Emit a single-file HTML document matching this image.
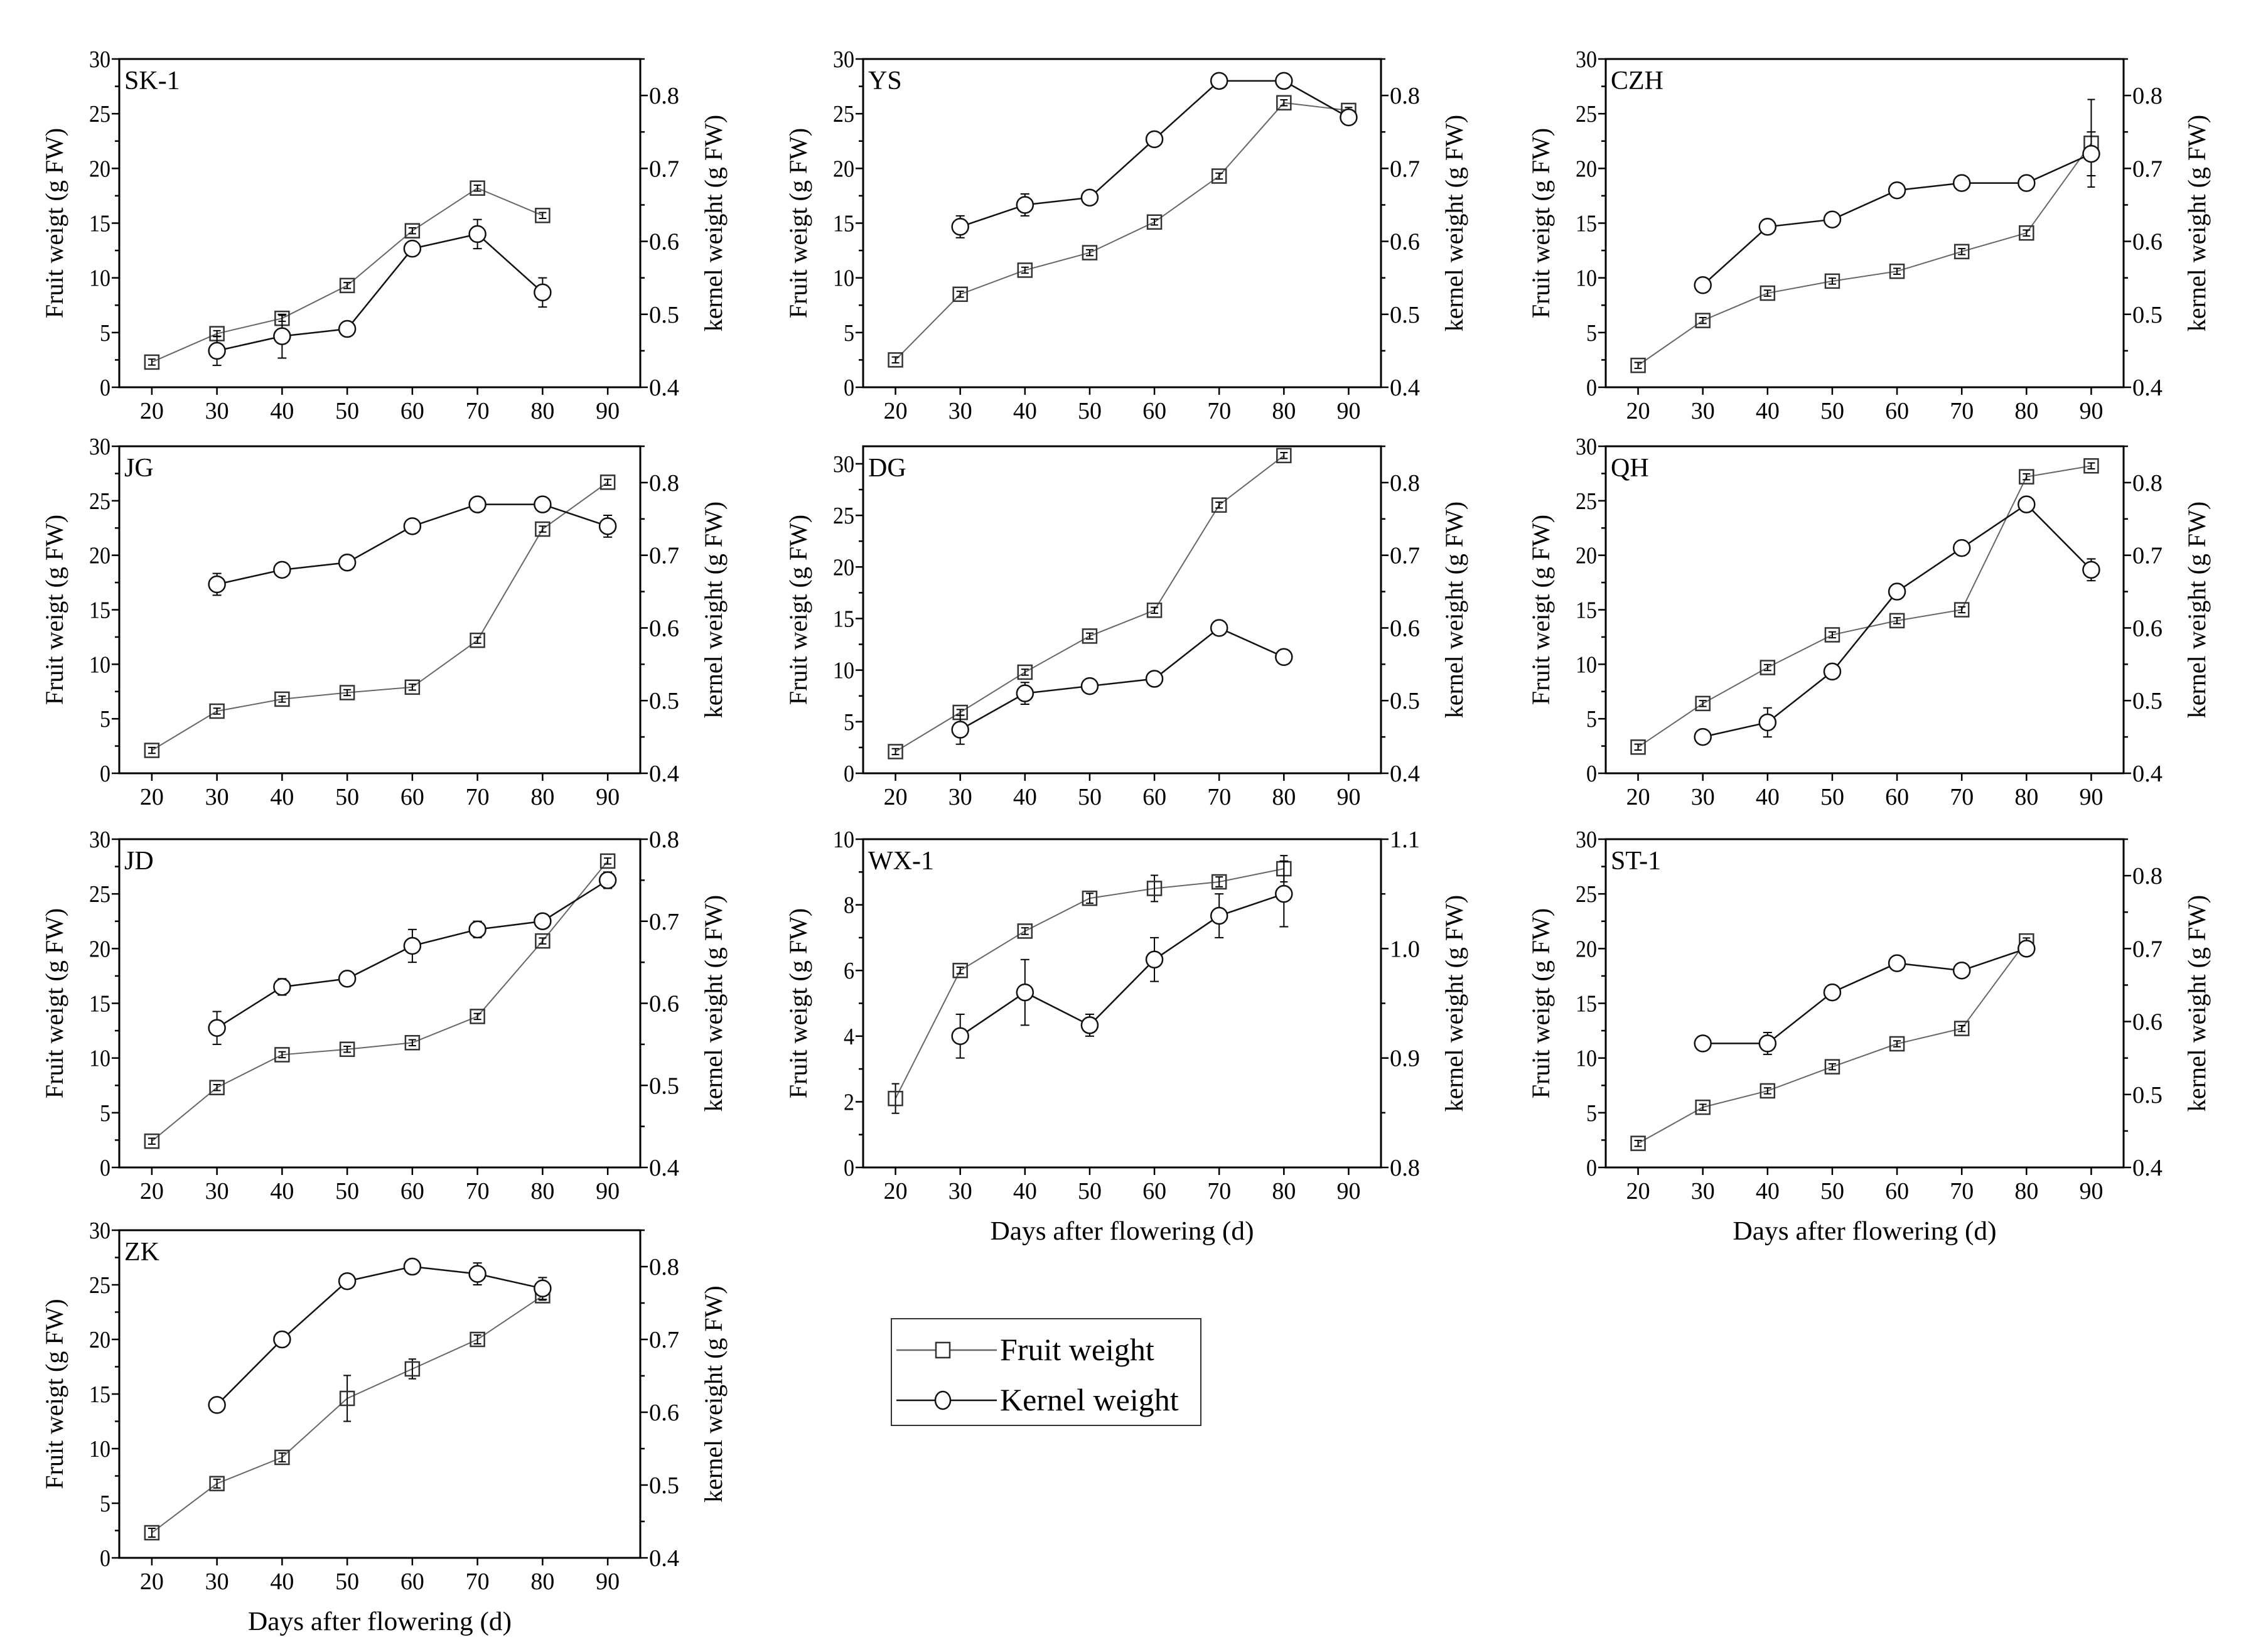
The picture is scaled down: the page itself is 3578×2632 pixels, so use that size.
<!DOCTYPE html>
<html><head><meta charset="utf-8"><style>
html,body{margin:0;padding:0;background:#fff}
svg{display:block}
text{font-family:"Liberation Serif","DejaVu Serif",serif;fill:#000}
</style></head><body>
<svg id="fig" width="3578" height="2632" viewBox="0 0 3578 2632" xmlns="http://www.w3.org/2000/svg">
<g id="legend">
<rect x="1420" y="2101" width="493" height="170" fill="#fff" stroke="#333" stroke-width="2"/>
<g>
<line x1="1428" y1="2151" x2="1588" y2="2151" stroke="#666" stroke-width="2.5"/>
<rect x="1491" y="2139" width="22" height="24" fill="#fff" stroke="#333" stroke-width="2.5"/>
<text x="1593" y="2167" font-size="50">Fruit weight</text></g>
<g>
<line x1="1428" y1="2231" x2="1588" y2="2231" stroke="#111" stroke-width="2.5"/>
<ellipse cx="1502" cy="2231" rx="12" ry="14" fill="#fff" stroke="#111" stroke-width="2.5"/>
<text x="1593" y="2247" font-size="50">Kernel weight</text></g>
</g>
</svg>
<script>
const days = [20,30,40,50,60,70,80,90];
const panelNames = ["SK-1","YS","CZH","JG","DG","QH","JD","WX-1","ST-1","ZK"];
const fruitSK1 = [2.3,4.9,6.3,9.3,14.3,18.2,15.7,null];
const kernelSK1 = [null,0.45,0.47,0.48,0.59,0.61,0.53,null];
const kernelErrSK1 = [0,0.02,0.03,0,0.005,0.02,0.02,0];
const fruitYS = [2.5,8.5,10.7,12.3,15.1,19.3,26.0,25.3];
const kernelYS = [null,0.62,0.65,0.66,0.74,0.82,0.82,0.77];
const kernelErrYS = [0,0.015,0.015,0.005,0,0,0,0];
const fruitCZH = [2.0,6.1,8.6,9.7,10.6,12.4,14.1,22.3];
const kernelCZH = [null,0.54,0.62,0.63,0.67,0.68,0.68,0.72];
const kernelErrCZH = [0,0,0,0,0,0,0,0.03];
const fruitJG = [2.1,5.7,6.8,7.4,7.9,12.2,22.4,26.7];
const kernelJG = [null,0.66,0.68,0.69,0.74,0.77,0.77,0.74];
const kernelErrJG = [0,0.015,0.005,0.005,0,0,0,0.015];
const fruitDG = [2.1,5.9,9.8,13.3,15.8,26.0,30.8,null];
const kernelDG = [null,0.46,0.51,0.52,0.53,0.60,0.56,null];
const kernelErrDG = [0,0.02,0.015,0,0,0,0,0];
const fruitQH = [2.4,6.4,9.7,12.7,14.0,15.0,27.2,28.2];
const kernelQH = [null,0.45,0.47,0.54,0.65,0.71,0.77,0.68];
const kernelErrQH = [0,0,0.02,0,0,0,0,0.015];
const fruitJD = [2.4,7.3,10.3,10.8,11.4,13.8,20.7,28.0];
const kernelJD = [null,0.57,0.62,0.63,0.67,0.69,0.70,0.75];
const kernelErrJD = [0,0.02,0.01,0,0.02,0.01,0,0.01];
const fruitWX1 = [2.1,6.0,7.2,8.2,8.5,8.7,9.1,null];
const kernelWX1 = [null,0.92,0.96,0.93,0.99,1.03,1.05,null];
const kernelErrWX1 = [0,0.02,0.03,0.01,0.02,0.02,0.03,0];
const fruitErrWX1 = [0.45,0.1,0.1,0.15,0.4,0.15,0.4,0];
const fruitST1 = [2.2,5.5,7.0,9.2,11.3,12.7,20.7,null];
const kernelST1 = [null,0.57,0.57,0.64,0.68,0.67,0.70,null];
const kernelErrST1 = [0,0,0.015,0.01,0,0,0,0];
const fruitZK = [2.3,6.8,9.2,14.6,17.3,20.0,24.0,null];
const kernelZK = [null,0.61,0.70,0.78,0.80,0.79,0.77,null];
const kernelErrZK = [0,0.005,0,0.005,0.005,0.015,0.015,0];
const fruitErrZK = [0.4,0.4,0.4,2.1,0.9,0.4,0.4,0];
const leftTicks30 = [0,5,10,15,20,25,30];
const leftTicks10 = [0,2,4,6,8,10];
const rightTicks8 = ["0.4","0.5","0.6","0.7","0.8"];
const rightTicks11 = ["0.8","0.9","1.0","1.1"];
const xTickLabels = ["20","30","40","50","60","70","80","90"];

const NS="http://www.w3.org/2000/svg";
const svg=document.getElementById('fig');
const legend=document.getElementById('legend');
function mk(tag,attrs,parent){const e=document.createElementNS(NS,tag);for(const k in attrs)e.setAttribute(k,attrs[k]);(parent||svg).appendChild(e);return e;}
const cols=[[190,1020],[1375,2200],[2558,3383]];
const rows=[[94,617],[711,1232],[1337,1860],[1960,2482]];
const panels=[
 {f:fruitSK1,k:kernelSK1,ke:kernelErrSK1,c:0,r:0},
 {f:fruitYS,k:kernelYS,ke:kernelErrYS,c:1,r:0},
 {f:fruitCZH,k:kernelCZH,ke:kernelErrCZH,c:2,r:0,fe:[0,0,0,0,0,0,0,4]},
 {f:fruitJG,k:kernelJG,ke:kernelErrJG,c:0,r:1},
 {f:fruitDG,k:kernelDG,ke:kernelErrDG,c:1,r:1,lmax:31.7},
 {f:fruitQH,k:kernelQH,ke:kernelErrQH,c:2,r:1},
 {f:fruitJD,k:kernelJD,ke:kernelErrJD,c:0,r:2,rmax:0.8},
 {f:fruitWX1,k:kernelWX1,ke:kernelErrWX1,fe:fruitErrWX1,c:1,r:2,lmax:10,lt:leftTicks10,rmin:0.8,rmax:1.1,rt:rightTicks11,xt:true},
 {f:fruitST1,k:kernelST1,ke:kernelErrST1,c:2,r:2,xt:true},
 {f:fruitZK,k:kernelZK,ke:kernelErrZK,fe:fruitErrZK,c:0,r:3,xt:true}
];
panels.forEach((p,i)=>{
 const [L,R]=cols[p.c],[T,B]=rows[p.r];
 const lmax=p.lmax||30, lt=p.lt||leftTicks30, rmin=p.rmin||0.4, rmax=p.rmax||0.85, rt=p.rt||rightTicks8;
 const xs=d=>L+(d-15)/80*(R-L);
 const yl=v=>B-v/lmax*(B-T);
 const yr=v=>B-(v-rmin)/(rmax-rmin)*(B-T);
 const g=mk('g',{});
 
 
 const st={stroke:'#000','stroke-width':3,fill:'none'};
 mk('rect',Object.assign({x:L,y:T,width:R-L,height:B-T},st),g);
 const lstep=lt[1]-lt[0];
 for(let v=0;v<=lmax+1e-9;v+=lstep/2){const maj=Math.abs(v/lstep-Math.round(v/lstep))<1e-6;mk('line',{x1:L,x2:L-(maj?12:7),y1:yl(v),y2:yl(v),stroke:'#000','stroke-width':2.5},g);}
 lt.forEach(v=>{const t=mk('text',{x:L-14,y:yl(v)+13,'font-size':38,'text-anchor':'end','textLength':(String(v).length*17),'lengthAdjust':'spacingAndGlyphs'},g);t.textContent=v;
   
   });
 const rs=parseFloat(rt[1])-parseFloat(rt[0]);
 for(let v=rmin;v<=rmax+1e-9;v+=rs/2){const n=Math.round((v-rmin)/(rs/2));mk('line',{x1:R,x2:R+(n%2==0?12:7),y1:yr(v),y2:yr(v),stroke:'#000','stroke-width':2.5},g);}
 rt.forEach(v=>{const t=mk('text',{x:R+14,y:yr(parseFloat(v))+13,'font-size':38,'textLength':48,'lengthAdjust':'spacingAndGlyphs'},g);t.textContent=v;
   
   });
 days.forEach((d,j)=>{mk('line',{x1:xs(d),x2:xs(d),y1:B,y2:B+12,stroke:'#000','stroke-width':2.5},g);
   const t=mk('text',{x:xs(d),y:B+50,'font-size':38,'text-anchor':'middle'},g);t.textContent=xTickLabels[j];
   
   });
 const lb=mk('text',{x:L+8,y:T+48,'font-size':42},g);lb.textContent=panelNames[i];
 
 
 const yc=(T+B)/2;
 const t1=mk('text',{x:0,y:0,'font-size':40,'text-anchor':'middle',transform:`translate(${L-90},${yc}) rotate(-90)`},g);t1.textContent='Fruit weigt (g FW)';
 
 
 const t2=mk('text',{x:0,y:0,'font-size':40,'text-anchor':'middle',transform:`translate(${R+130},${yc}) rotate(-90)`},g);t2.textContent='kernel weight (g FW)';
 
 
 if(p.xt){const t=mk('text',{x:(L+R)/2,y:B+115,'font-size':42,'text-anchor':'middle','textLength':420,'lengthAdjust':'spacingAndGlyphs'},g);t.textContent='Days after flowering (d)';
   
   }
 const fp=[];p.f.forEach((v,j)=>{if(v!=null)fp.push([xs(days[j]),yl(v),j]);});
 const fl=mk('polyline',{points:fp.map(q=>q[0]+','+q[1]).join(' '),fill:'none',stroke:'#666','stroke-width':2},g);
 
 
 fp.forEach(([x,y,j])=>{
   const e=(p.fe&&p.fe[j])||lmax*0.009;
   const y1=yl(p.f[j]+e),y2=yl(p.f[j]-e);
   mk('line',{x1:x,x2:x,y1:y1,y2:y2,stroke:'#000','stroke-width':2},g);
   mk('line',{x1:x-6,x2:x+6,y1:y1,y2:y1,stroke:'#000','stroke-width':2},g);
   mk('line',{x1:x-6,x2:x+6,y1:y2,y2:y2,stroke:'#000','stroke-width':2},g);
   const m=mk('rect',{x:x-11,y:y-11,width:22,height:22,fill:'none',stroke:'#333','stroke-width':2.5},g);
   
   
 });
 const kp=[];p.k.forEach((v,j)=>{if(v!=null)kp.push([xs(days[j]),yr(v),j]);});
 const kl=mk('polyline',{points:kp.map(q=>q[0]+','+q[1]).join(' '),fill:'none',stroke:'#111','stroke-width':2.5},g);
 
 
 kp.forEach(([x,y,j])=>{
   const e=p.ke[j];
   if(e>0){const y1=yr(p.k[j]+e),y2=yr(p.k[j]-e);
     mk('line',{x1:x,x2:x,y1:y1,y2:y2,stroke:'#000','stroke-width':2},g);
     mk('line',{x1:x-7,x2:x+7,y1:y1,y2:y1,stroke:'#000','stroke-width':2},g);
     mk('line',{x1:x-7,x2:x+7,y1:y2,y2:y2,stroke:'#000','stroke-width':2},g);}
   const c=mk('circle',{cx:x,cy:y,r:13,fill:'#fff',stroke:'#111','stroke-width':2.5},g);
   
   
 });
});
svg.appendChild(legend);
</script>
</body></html>
